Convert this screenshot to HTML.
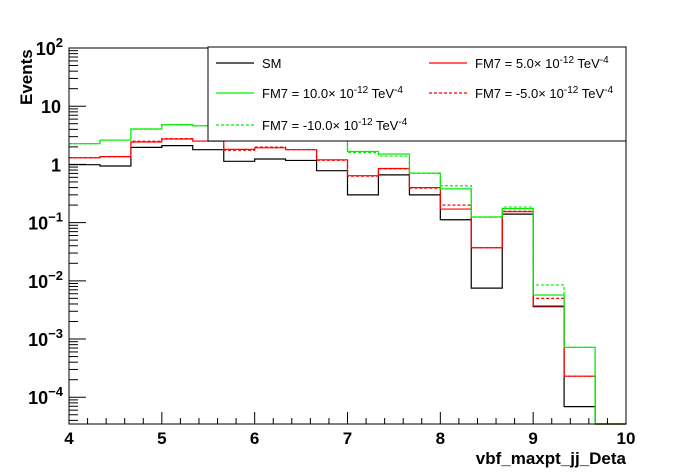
<!DOCTYPE html>
<html><head><meta charset="utf-8"><style>
body{margin:0;background:#fff;}
svg{display:block;font-family:"Liberation Sans",Arial,sans-serif;}
</style></head><body>
<svg id="c" width="696" height="472">
<rect x="0" y="0" width="696" height="472" fill="#fff"/>
<g id="marks"></g>
<g id="axes"></g>
</svg>
<script>
const binEdges=[4,4.333,4.667,5,5.333,5.667,6,6.333,6.667,7,7.333,7.667,8,8.333,8.667,9,9.333,9.667,10];
const smVals=[0.99,0.94,1.96,2.1,1.79,1.13,1.24,1.17,0.78,0.30,0.66,0.30,0.112,0.0075,0.14,0.0036,0.000069,0];
const fm5Vals=[1.30,1.36,2.43,2.73,2.52,1.81,1.93,1.79,1.2,0.64,0.85,0.40,0.171,0.037,0.154,0.0037,0.00023,0];
const fmm5Vals=[1.30,1.36,2.5,2.78,2.52,1.75,1.98,1.79,1.18,0.63,0.84,0.39,0.20,0.037,0.157,0.005,0.00023,0];
const fm10Vals=[2.27,2.62,4.06,4.8,4.6,3.5,3.8,3.6,3.0,1.67,1.51,0.71,0.38,0.125,0.174,0.0057,0.00072,0];
const fmm10Vals=[2.27,2.62,4.06,4.8,4.6,3.5,3.8,3.6,3.0,1.6,1.39,0.70,0.43,0.125,0.185,0.0085,0.00072,0];
const xTicks=[4,5,6,7,8,9,10];
const yTicks=[2,1,0,-1,-2,-3,-4];

const X0=69,X1=626,Y0=424,Y1=48,xMin=4,xMax=10,lMin=-4.46,lMax=2;
const NS='http://www.w3.org/2000/svg';
function sx(v){return X0+(v-xMin)/(xMax-xMin)*(X1-X0);}
function sy(v){if(v<=0)return Y0;const l=Math.log10(v);return Math.max(Y1,Math.min(Y0,Y1+(lMax-l)/(lMax-lMin)*(Y0-Y1)));}
const marks=document.getElementById('marks'),axes=document.getElementById('axes');
function mk(tag,attrs,parent){const e=document.createElementNS(NS,tag);for(const k in attrs)e.setAttribute(k,attrs[k]);parent.appendChild(e);return e;}
function hist(vals,color,dash,name){
  let d='';
  for(let i=0;i<vals.length;i++){
    const y=sy(vals[i]);
    d+=(i===0?'M':'L')+sx(binEdges[i])+','+y+'L'+sx(binEdges[i+1])+','+y;
  }
  const p=mk('path',{d:d,fill:'none',stroke:color,'stroke-width':1.2},marks);
  if(dash)p.setAttribute('stroke-dasharray',dash);
  
  
}
hist(smVals,'#000',null,'series-sm');
hist(fm5Vals,'#f00',null,'series-fm7-5');
hist(fmm5Vals,'#f00','3,2','series-fm7-minus5');
hist(fm10Vals,'#0e0',null,'series-fm7-10');
hist(fmm10Vals,'#0e0','3,2','series-fm7-minus10');

const fr=mk('rect',{x:X0,y:Y1,width:X1-X0,height:Y0-Y1,fill:'none',stroke:'#000','stroke-width':1},axes);


for(let v=4;v<=10.001;v+=0.2){
  const major=Math.abs(v-Math.round(v))<0.01;
  const t=mk('line',{x1:sx(v),x2:sx(v),y1:Y0,y2:Y0-(major?12:6),stroke:'#000'},axes);
  
  
}
xTicks.forEach(v=>{
  const t=mk('text',{x:sx(v),y:444,'text-anchor':'middle','font-size':17,'font-weight':'bold'},axes);
  t.textContent=v;
  
  
});
for(let e=-5;e<=2;e++){
  for(let m=1;m<=9;m++){
    const v=m*Math.pow(10,e);const l=Math.log10(v);
    if(l<lMin||l>lMax)continue;
    const y=sy(v);
    const t=mk('line',{x1:X0,x2:X0+(m===1?17:9),y1:y,y2:y,stroke:'#000'},axes);
    
    
  }
}
yTicks.forEach(e=>{
  const y=sy(Math.pow(10,e));
  const t=mk('text',{x:e===1||e===0?61:63,y:y+7,'text-anchor':'end','font-size':18,'font-weight':'bold'},axes);
  if(e===1)t.textContent='10';
  else if(e===0)t.textContent='1';
  else{
    t.textContent='10';
    const s=mk('tspan',{dy:-8,'font-size':13},t);s.textContent=(e<0?'\u2212':'')+Math.abs(e);
    
    
  }
  
  
});
const yt=mk('text',{x:0,y:0,transform:'translate(32,105) rotate(-90)','font-size':17,'font-weight':'bold'},axes);
yt.textContent='Events';


const xt=mk('text',{x:626,y:464,'text-anchor':'end','font-size':17,'font-weight':'bold'},axes);
xt.textContent='vbf_maxpt_jj_Deta';



const lg=mk('g',{},axes);


mk('rect',{x:208,y:47,width:418,height:94,fill:'#fff',stroke:'#000','stroke-width':1},lg);
const entries=[['SM','#000',null,216,63],['FM7 = 5.0\u00d7 10|-12| TeV|-4','#f00',null,429,63],
 ['FM7 = 10.0\u00d7 10|-12| TeV|-4','#0e0',null,216,93],['FM7 = -5.0\u00d7 10|-12| TeV|-4','#f00','3,2',429,93],
 ['FM7 = -10.0\u00d7 10|-12| TeV|-4','#0e0','3,2',216,125]];
entries.forEach(en=>{
  const g=mk('g',{},lg);
  
  
  const l=mk('line',{x1:en[3],x2:en[3]+38,y1:en[4],y2:en[4],stroke:en[1],'stroke-width':1.2},g);
  if(en[2])l.setAttribute('stroke-dasharray',en[2]);
  const t=mk('text',{x:en[3]+46,y:en[4]+5,'font-size':13},g);
  const parts=en[0].split('|');
  parts.forEach((p,i)=>{
    const s=mk('tspan',{},t);s.textContent=p;
    if(i%2===1){s.setAttribute('dy',-5);s.setAttribute('font-size',10);}
    else if(i>0){s.setAttribute('dy',5);}
  });
});
</script>
</body></html>
